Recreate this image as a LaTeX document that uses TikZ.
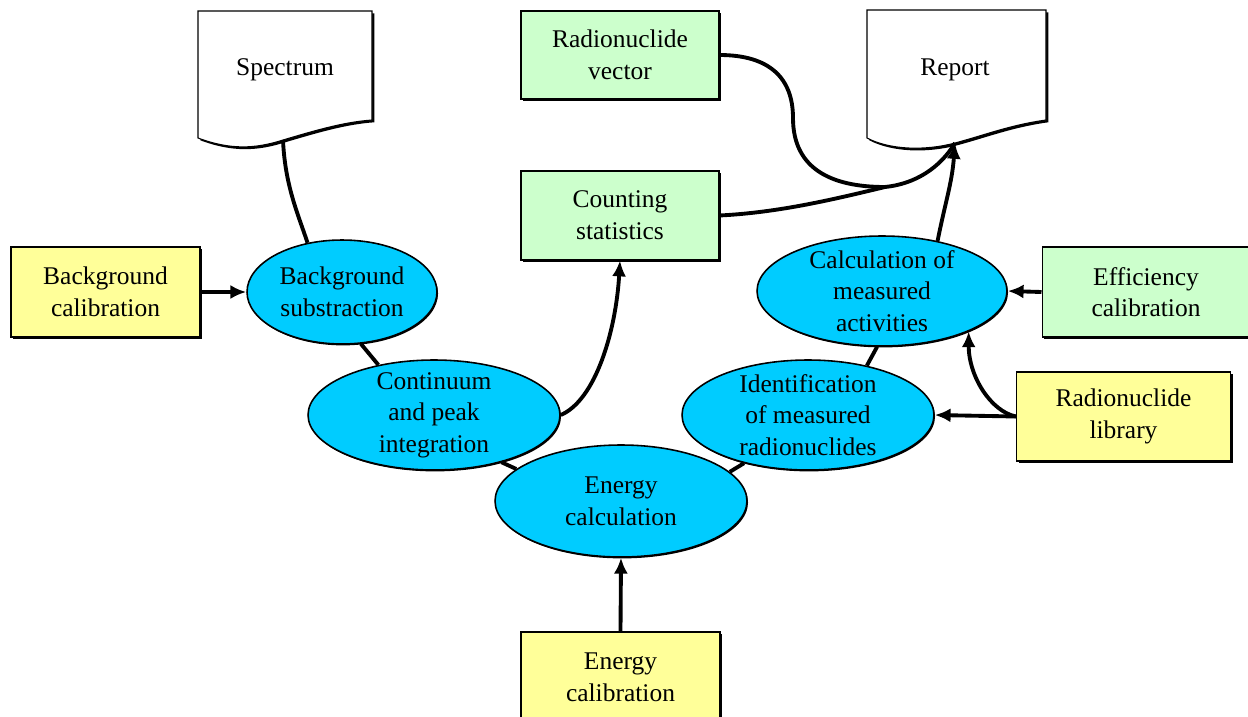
\documentclass[tikz,border=0pt]{standalone}
\usepackage{fontspec}
\setmainfont{Liberation Serif}
\usetikzlibrary{shapes.geometric, arrows.meta, shadows}

\definecolor{inputyellow}{HTML}{FFFF99}
\definecolor{datagreen}{HTML}{CCFFCC}
\definecolor{stepcyan}{HTML}{00CCFF}

\begin{document}
\begin{tikzpicture}[x = 0.02cm, y = -0.02cm,
        every node/.append style = {font = \fontsize{14.5}{18}\selectfont, align = center},
        inbox/.style = {draw, line width = 0.6pt, fill = inputyellow, inner sep = 0pt,
            drop shadow = {shadow xshift = 1.3pt, shadow yshift = -1.3pt, opacity = 1, fill = black}},
        databox/.style = {inbox, fill = datagreen},
        procstep/.style = {ellipse, draw, line width = 0.9pt, fill = stepcyan, inner sep = 0pt,
            drop shadow = {shadow xshift = 0.6pt, shadow yshift = -0.8pt, opacity = 1, fill = black}},
        document/.style = {draw, line width = 0.6pt, fill = white,
            drop shadow = {shadow xshift = 1.3pt, shadow yshift = -1.3pt, opacity = 1, fill = black}},
        link/.style = {line width = 2.2pt},
        flow/.style = {link, -{Latex[length = 9pt, width = 8pt]}}]
    \useasboundingbox (0,0) rectangle (1248,717);

    \begin{scope}
        \draw[style = document] (198,11) -- (372,11) -- (372,120) .. controls (345,122) and (320,129) .. (283,140)
            .. controls (255,149) and (230,150) .. (198,138) -- cycle;
        \node (spectrum) at (285,70) {Spectrum};
        \coordinate (spectrum-out) at (283,140);
        \draw[style = document] (867,10) -- (1046,10) -- (1046,120) .. controls (1010,125) and (985,135) .. (955,143)
            .. controls (925,151) and (890,150) .. (867,138) -- cycle;
        \node (report) at (955,70) {Report};
        \coordinate (report-in) at (955,143);
        \coordinate (merge) at (885,187);
    \end{scope}

    \node[databox, minimum width = 3.96cm, minimum height = 1.76cm] (vector) at (620,55) {Radionuclide\\ vector};
    \node[databox, minimum width = 3.96cm, minimum height = 1.78cm] (count) at (620,215.5) {Counting\\ statistics};
    \node[inbox, minimum width = 3.78cm, minimum height = 1.8cm] (bgcal) at (105.5,292) {Background\\ calibration};
    \node[databox, minimum width = 4.16cm, minimum height = 1.8cm] (eff) at (1146,292) {Efficiency\\ calibration};
    \node[inbox, minimum width = 4.28cm, minimum height = 1.78cm] (lib) at (1123.5,416.5) {Radionuclide\\ library};
    \node[inbox, minimum width = 3.98cm, minimum height = 1.8cm] (ecal) at (620.5,677) {Energy\\ calibration};

    \node[procstep, minimum width = 3.8cm, minimum height = 2.08cm,
        label = {center:Background\\ substraction}] (bgsub) at (342,292) {};
    \node[procstep, minimum width = 5.04cm, minimum height = 2.2cm,
        label = {center:Continuum\\ and peak\\ integration}] (cont) at (434,415) {};
    \node[procstep, minimum width = 5.04cm, minimum height = 2.24cm,
        label = {center:Energy\\ calculation}] (energy) at (621,501) {};
    \node[procstep, minimum width = 5.04cm, minimum height = 2.2cm,
        label = {center:Identification\\ of measured\\ radionuclides}] (ident) at (808,415) {};
    \node[procstep, minimum width = 5cm, minimum height = 2.2cm,
        label = {center:Calculation of\\ measured\\ activities}] (calc) at (882,291) {};

    \draw[style = link] (spectrum-out) .. controls +(2,45) and +(-10,-30) .. (bgsub.125);
    \draw[style = flow] (bgcal.east) -- (bgsub.west);
    \draw[style = link] (bgsub.-70) -- (cont.138);
    \draw[style = flow] (cont.east) .. controls +(35,-15) and +(-4,70) .. (count.south);
    \draw[style = link] (cont.-35) -- (energy.163);
    \draw[style = link] (energy.15) -- (ident.-143);
    \draw[style = link] (ident.40) -- (calc.-95);
    \draw[style = flow] (ecal.north) -- (energy.south);
    \draw[style = flow] (lib.west) -- (ident.east);
    \draw[style = flow] (lib.west) .. controls +(-25,-5) and +(0,45) .. (calc.-25);
    \draw[style = flow] (eff.west) -- (calc.east);
    \draw[style = link] (vector.east) .. controls +(50,0) and +(0,-40) .. (793,118)
        .. controls +(0,50) and +(-55,0) .. (merge);
    \draw[style = link] (count.east) .. controls +(60,-3) and +(-50,12) .. (merge);
    \draw[style = link] (merge) .. controls +(30,-3) and +(-15,25) .. (report-in);
    \draw[style = flow] (calc.42) .. controls +(8,-40) and +(-3,40) .. (report-in);
\end{tikzpicture}
\end{document}
